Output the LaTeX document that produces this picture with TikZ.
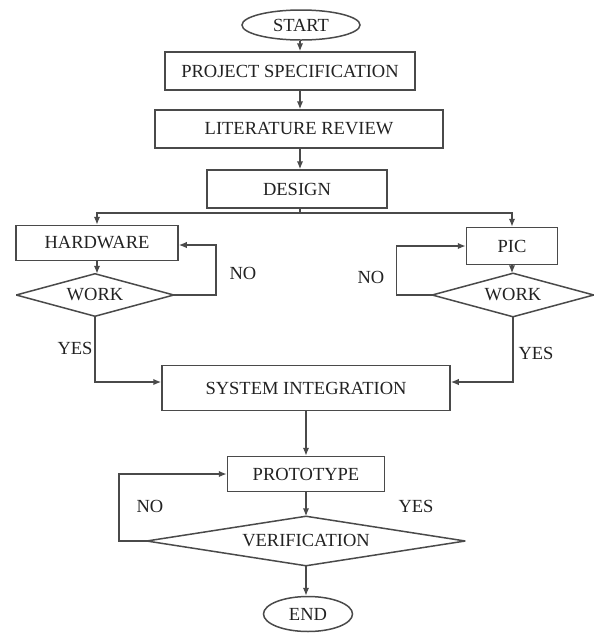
\documentclass[tikz,border=0pt]{standalone}
\usepackage{fontspec}
\setmainfont{Liberation Serif}
\usetikzlibrary{shapes.geometric,arrows.meta}
\definecolor{ln}{HTML}{4A4A4A}
\definecolor{tx}{HTML}{222222}
\tikzset{
  base/.style={draw=ln, line width=1.5pt, text=tx, inner sep=0pt, font=\fontsize{18.5}{20}\selectfont},
  boxnode/.style={base, rectangle},
  termnode/.style={base, ellipse},
  decnode/.style={base, rectangle, draw=none},
  lbl/.style={text=tx, inner sep=0pt, font=\fontsize{18.5}{20}\selectfont},
  conn/.style={draw=ln, line width=1.5pt},
  arr/.style={conn, -{Latex[length=8pt,width=6.5pt]}},
  diamondline/.style={draw=ln, line width=1.5pt, line join=bevel}
}
\begin{document}
\begin{tikzpicture}[x=1pt,y=-1pt]
\useasboundingbox (0,0) rectangle (595,633);
\node[termnode, minimum width=118pt, minimum height=30pt] (start) at (301,25) {START};
\node[boxnode, minimum width=250pt, minimum height=38pt] (ps) at (290,71) {PROJECT SPECIFICATION};
\node[boxnode, minimum width=288pt, minimum height=38pt] (lr) at (299,129) {LITERATURE REVIEW};
\node[boxnode, minimum width=180pt, minimum height=38pt] (design) at (297,189) {DESIGN};
\coordinate (split) at (300,213);
\node[boxnode, minimum width=162pt, minimum height=35pt] (hw) at (97,243) {HARDWARE};
\node[decnode, minimum width=156pt, minimum height=41pt] (w1) at (95,295) {WORK};
\node[boxnode, minimum width=91pt, minimum height=37pt] (pic) at (512,246) {PIC};
\node[decnode, minimum width=160pt, minimum height=42pt] (w2) at (513,295) {WORK};
\node[boxnode, minimum width=288pt, minimum height=45pt] (si) at (306,388) {SYSTEM INTEGRATION};
\node[boxnode, minimum width=157pt, minimum height=35pt] (proto) at (306,474) {PROTOTYPE};
\node[decnode, minimum width=317pt, minimum height=48pt] (ver) at (306,541) {VERIFICATION};
\node[termnode, minimum width=89pt, minimum height=35pt] (end) at (308,614) {END};
% diamond outlines
\foreach \d in {w1,w2,ver}{
  \draw[diamondline] (\d.north) -- (\d.east) -- (\d.south) -- (\d.west) -- cycle;
}
% labels
\node[lbl] (no1) at (243,273) {NO};
\node[lbl] (yes1) at (75,348) {YES};
\node[lbl] (no2) at (371,277) {NO};
\node[lbl] (yes2) at (536,353) {YES};
\node[lbl] (no3) at (150,506) {NO};
\node[lbl] (yes3) at (416,506) {YES};
% connectors
\draw[arr] (start.south -| split) -- (split |- ps.north);
\draw[arr] (ps.south -| split) -- (split |- lr.north);
\draw[arr] (lr.south -| split) -- (split |- design.north);
\draw[conn] (design.south -| split) -- (split);
\draw[arr] (split) -| (hw.north);
\draw[arr] (split) -| (pic.north);
\draw[arr] (hw.south) -- (hw.south |- w1.north);
\draw[arr] (pic.south) -- (pic.south |- w2.north);
\draw[arr] (w1.east) -- ++(42,0) |- ([yshift=-2pt]hw.east);
\draw[arr] (w2.west) -- ++(-36,0) |- (pic.west);
\draw[arr] (w1.south) |- ([yshift=6pt]si.west);
\draw[arr] (w2.south) |- ([yshift=6pt]si.east);
\draw[arr] (si) -- (proto);
\draw[arr] (proto) -- (ver.north);
\draw[arr] (ver.west) -- ++(-28,0) |- (proto.west);
\draw[arr] (ver.south) -- (ver.south |- end.north);
\end{tikzpicture}
\end{document}
